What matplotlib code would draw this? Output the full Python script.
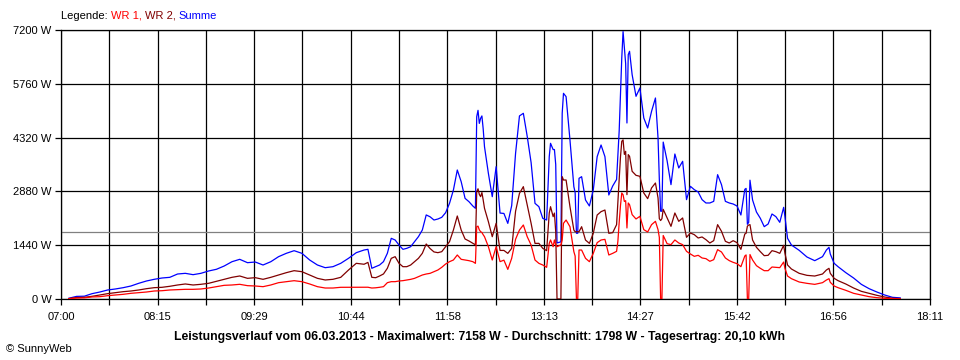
import matplotlib
matplotlib.use("Agg")
import matplotlib.pyplot as plt

# ---------------- data ----------------
times = ["07:06", "07:12", "07:18", "07:24", "07:30", "07:36", "07:42", "07:48", "07:54",
         "08:00", "08:06", "08:12", "08:18", "08:24", "08:30", "08:36", "08:42", "08:48", "08:54",
         "09:00", "09:06", "09:12", "09:18", "09:24", "09:30", "09:36", "09:42", "09:48", "09:54",
         "10:00", "10:06", "10:12", "10:18", "10:24", "10:30", "10:36", "10:42", "10:48", "10:54", "10:57",
         "11:00", "11:03", "11:06", "11:09", "11:12", "11:15", "11:18", "11:21", "11:24", "11:27",
         "11:30", "11:33", "11:36", "11:39", "11:42", "11:45", "11:48", "11:51", "11:54", "11:57",
         "12:00", "12:03", "12:06", "12:09", "12:12", "12:15", "12:18", "12:20", "12:21", "12:22",
         "12:23", "12:24", "12:25", "12:26",
         "12:27", "12:30", "12:33", "12:36", "12:39", "12:42", "12:45", "12:48", "12:51", "12:54",
         "12:57", "13:00", "13:03", "13:06", "13:09", "13:12", "13:15", "13:17", "13:18", "13:20",
         "13:21", "13:22", "13:23", "13:26", "13:27", "13:28", "13:30", "13:33", "13:36", "13:37",
         "13:38", "13:39", "13:40", "13:42", "13:45", "13:48", "13:51", "13:54", "13:57", "14:00",
         "14:03", "14:06", "14:09", "14:10", "14:11", "14:12", "14:13", "14:14", "14:15", "14:16",
         "14:17", "14:18", "14:19", "14:21", "14:24", "14:27", "14:30", "14:33", "14:36", "14:39",
         "14:41", "14:42", "14:43", "14:44", "14:45", "14:48", "14:51", "14:54", "14:57", "15:00",
         "15:03", "15:06", "15:09", "15:12", "15:15", "15:18", "15:21", "15:24", "15:27", "15:30",
         "15:33", "15:36", "15:39", "15:42", "15:45", "15:48", "15:49", "15:50", "15:51", "15:52",
         "15:54", "15:57", "16:00", "16:03", "16:06", "16:09", "16:12", "16:15", "16:18", "16:19",
         "16:21", "16:24", "16:30", "16:36", "16:42", "16:48", "16:51", "16:53", "16:54", "16:57",
         "17:00", "17:06", "17:12", "17:18", "17:24", "17:30", "17:36", "17:42", "17:48"]

wr1 = [10, 25, 30, 55, 62, 89, 107, 125, 152,
       169, 187, 214, 222, 241, 250, 259, 259, 268, 294,
       330, 366, 375, 393, 357, 348, 330, 375, 437, 464,
       490, 464, 402, 330, 294, 294, 313, 313, 313, 313, 315,
       294, 300, 313, 330, 437, 464, 464, 482, 491, 508,
       526, 553, 598, 642, 669, 687, 731, 776, 848, 937,
       999, 1044, 1178, 1062, 1044, 1026, 999, 954, 1936, 1950,
       1850, 1802, 1780, 1720,
       1668, 1401, 1044, 1401, 1000, 1040, 793, 1089, 1600, 1846,
       1981, 1667, 1445, 1043, 954, 910, 848, 1490, 1580, 1400,
       1580, 1450, 1400, 1450, 1578, 2026, 2114, 1935, 1267, 1150,
       0, 0, 1311, 1311, 1089, 999, 1222, 1508, 1579, 1597,
       1178, 1222, 1276, 1544, 2050, 2500, 2838, 2790, 2610, 2632,
       1901, 2570, 2525, 2258, 2142, 2213, 1856, 1794, 1990, 2079,
       1856, 1650, 0, 0, 1700, 1481, 1455, 1580, 1499, 1455,
       1276, 1205, 1142, 1169, 1098, 1080, 1009, 1053, 1321, 1258,
       1098, 1027, 981, 946, 865, 1151, 1180, 0, 0, 1190,
       1044, 892, 821, 758, 758, 856, 847, 839, 990, 821,
       615, 544, 455, 419, 392, 437, 508, 544, 446, 348,
       303, 232, 152, 107, 62, 36, 18, 10, 5]

wr2 = [10, 40, 45, 72, 107, 143, 169, 196, 214,
       241, 276, 303, 313, 340, 375, 402, 375, 393, 420,
       473, 527, 580, 616, 553, 571, 527, 580, 642, 705,
       758, 731, 642, 553, 509, 527, 580, 776, 955, 930, 980,
       580, 570, 616, 670, 822, 1088, 1133, 955, 865, 865,
       910, 999, 1089, 1223, 1472, 1350, 1260, 1240, 1267, 1401,
       1535, 1847, 2222, 1847, 1606, 1553, 1490, 1450, 2873, 2950,
       2800, 2739, 2850, 2650,
       2428, 2070, 1668, 2026, 1300, 1300, 1221, 1356, 2350, 2828,
       3007, 2515, 2024, 1489, 1489, 1356, 1294, 2300, 2471, 2204,
       2300, 1800, 0, 0, 3275, 3185, 3185, 2471, 1846, 1800,
       1800, 1800, 1802, 1935, 1578, 1489, 1757, 2248, 2338, 2382,
       1758, 1776, 1990, 2615, 3200, 3800, 4220, 4260, 3870, 3953,
       2793, 3864, 3820, 3418, 3310, 3284, 2838, 2686, 2972, 3105,
       2704, 2150, 2100, 2150, 2400, 2169, 1945, 2302, 2079, 2169,
       1651, 1767, 1722, 1633, 1660, 1588, 1499, 1562, 1990, 1812,
       1544, 1499, 1561, 1508, 1329, 1740, 1760, 1950, 1980, 1990,
       1579, 1383, 1267, 1160, 1169, 1294, 1267, 1222, 1436, 1222,
       910, 803, 687, 633, 615, 669, 776, 821, 687, 553,
       491, 401, 294, 205, 152, 98, 53, 20, 10]

summe = [20, 70, 75, 143, 187, 241, 268, 303, 348,
         420, 482, 527, 562, 580, 669, 687, 651, 687, 750,
         795, 883, 998, 1062, 972, 990, 910, 998, 1133, 1223,
         1293, 1223, 1044, 910, 838, 865, 955, 1089, 1240, 1311, 1330,
         822, 865, 910, 1000, 1223, 1624, 1579, 1445, 1330, 1356,
         1401, 1535, 1669, 1847, 2250, 2200, 2114, 2141, 2186, 2311,
         2561, 2917, 3453, 3140, 2694, 2605, 2489, 2427, 4880, 5050,
         4700, 4836, 4900, 4550,
         4077, 3364, 2739, 3542, 2300, 2290, 2024, 2500, 3900, 4900,
         4970, 4350, 3650, 2560, 2471, 2159, 2114, 3810, 4167, 4000,
         4000, 3600, 1500, 1530, 4970, 5505, 5416, 4256, 3007, 2850,
         1760, 1760, 3230, 3274, 2650, 2490, 2917, 3810, 4122, 3810,
         2784, 3025, 3200, 3864, 4500, 5500, 6451, 7158, 6720, 6300,
         4711, 6540, 6630, 6005, 5425, 5648, 4845, 4577, 5023, 5380,
         4310, 3200, 2350, 2350, 4200, 3700, 3061, 3881, 3507, 3685,
         2659, 3016, 2927, 2864, 2659, 2570, 2570, 2614, 3328, 3061,
         2614, 2570, 2543, 2489, 2248, 2935, 2960, 2000, 2050, 3180,
         2650, 2328, 2159, 1936, 2007, 2275, 2204, 2052, 2453, 2204,
         1624, 1445, 1302, 1124, 1026, 1133, 1311, 1383, 1204, 955,
         865, 705, 562, 392, 276, 187, 107, 45, 30]

average_w = 1798
y_ticks = [0, 1440, 2880, 4320, 5760, 7200]
y_tick_labels = ["0 W", "1440 W", "2880 W", "4320 W", "5760 W", "7200 W"]
x_tick_labels = ["07:00", "08:15", "09:29", "10:44", "11:58", "13:13", "14:27", "15:42", "16:56", "18:11"]
x_start, x_end = "07:00", "18:11"

legend_parts = [("Legende: ", "#000000"), ("WR 1, ", "#ff0000"), ("WR 2, ", "#800000"), ("Summe", "#0000ff")]
caption = ("Leistungsverlauf vom 06.03.2013 - Maximalwert: 7158 W - Durchschnitt: 1798 W"
           " - Tagesertrag: 20,10 kWh")
copyright_text = "\u00a9 SunnyWeb"


def to_min(s):
    h, m = s.split(":")
    return int(h) * 60 + int(m)


t = [to_min(s) for s in times]
t0, t1 = to_min(x_start), to_min(x_end)

plt.rcParams['font.family'] = ['Liberation Sans', 'DejaVu Sans']

W, H = 960, 360
fig = plt.figure(figsize=(W / 100, H / 100), dpi=100)
fig.patch.set_facecolor("white")
ax = fig.add_axes([61 / W, 61 / H, 869 / W, 269 / H])

ax.set_xlim(t0, t1)
ax.set_ylim(0, 7200)

# ticks: 18 intervals, labels on every second one
n_int = 2 * (len(x_tick_labels) - 1)
xt = [t0 + (t1 - t0) * k / n_int for k in range(n_int + 1)]
xl = []
for k in range(n_int + 1):
    xl.append(x_tick_labels[k // 2] if k % 2 == 0 else "")
ax.set_xticks(xt)
ax.set_xticklabels(xl)
ax.set_yticks(y_ticks)
ax.set_yticklabels(y_tick_labels)

ax.tick_params(axis="both", direction="out", length=4.2, width=0.9, color="black",
               labelsize=8, labelcolor="black")
ax.tick_params(axis="x", pad=5.5)
ax.tick_params(axis="y", pad=2.5)

ax.grid(True, color="black", linewidth=0.9)
ax.set_axisbelow(True)
for sp in ax.spines.values():
    sp.set_color("black")
    sp.set_linewidth(0.9)

ax.axhline(average_w, color="#808080", linewidth=0.9, zorder=2)

ax.plot(t, summe, color="#0000ff", linewidth=0.9, zorder=3)
ax.plot(t, wr2, color="#800000", linewidth=0.9, zorder=4)
ax.plot(t, wr1, color="#ff0000", linewidth=0.9, zorder=5)

# legend at the top, multi-coloured text
fig.canvas.draw()
renderer = fig.canvas.get_renderer()
x_px = 61.0
for txt, col in legend_parts:
    tt = fig.text(x_px / W, 1 - 16 / H, txt, color=col, fontsize=8, va="center", ha="left")
    bb = tt.get_window_extent(renderer=renderer)
    x_px += bb.width

fig.text(0.5, 1 - 337 / H, caption, fontsize=8.8, fontweight="bold", ha="center", va="center")
fig.text(6 / W, 1 - 349 / H, copyright_text, fontsize=8, ha="left", va="center")

fig.savefig("out.png", dpi=100, facecolor="white")
